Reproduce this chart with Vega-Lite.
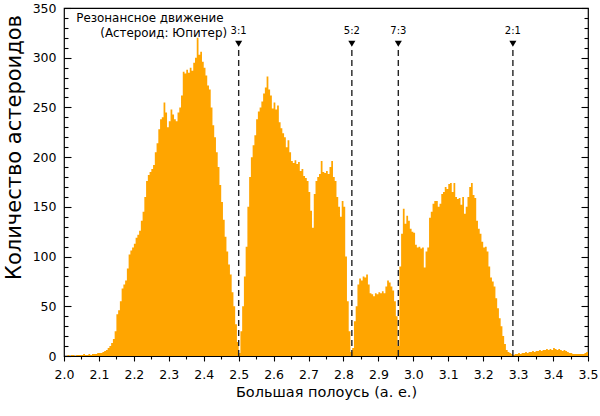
{
 "$schema": "https://vega.github.io/schema/vega-lite/v6.json",
 "width": 524,
 "height": 348,
 "padding": {"left": 64, "top": 8, "right": 12, "bottom": 60},
 "autosize": {"type": "none"},
 "background": "white",
 "config": {
  "view": {"stroke": "black", "strokeWidth": 1.2},
  "font": "DejaVu Sans",
  "axis": {"domain": false, "grid": false, "labelFont": "DejaVu Sans", "titleFont": "DejaVu Sans", "tickColor": "black", "labelColor": "black", "titleColor": "black", "titleFontWeight": "normal", "tickWidth": 1.1, "labelOverlap": false, "labelFlush": false, "labelBound": false}
 },
 "datasets": {
  "hist": [
   {"a":2.000,"n":0},{"a":2.005,"n":0},{"a":2.010,"n":1},{"a":2.015,"n":0},{"a":2.020,"n":1},{"a":2.025,"n":1},{"a":2.030,"n":0},{"a":2.035,"n":1},{"a":2.040,"n":1},{"a":2.045,"n":1},
   {"a":2.050,"n":1},{"a":2.055,"n":2},{"a":2.060,"n":1},{"a":2.065,"n":1},{"a":2.070,"n":2},{"a":2.075,"n":1},{"a":2.080,"n":2},{"a":2.085,"n":2},{"a":2.090,"n":2},{"a":2.095,"n":3},
   {"a":2.100,"n":3},{"a":2.105,"n":3},{"a":2.110,"n":4},{"a":2.115,"n":5},{"a":2.120,"n":6},{"a":2.125,"n":8},{"a":2.130,"n":10},{"a":2.135,"n":13},{"a":2.140,"n":17},{"a":2.145,"n":25},
   {"a":2.150,"n":42},{"a":2.155,"n":46},{"a":2.160,"n":55},{"a":2.165,"n":68},{"a":2.170,"n":72},{"a":2.175,"n":76},{"a":2.180,"n":88},{"a":2.185,"n":102},{"a":2.190,"n":106},{"a":2.195,"n":109},
   {"a":2.200,"n":113},{"a":2.205,"n":119},{"a":2.210,"n":122},{"a":2.215,"n":126},{"a":2.220,"n":136},{"a":2.225,"n":145},{"a":2.230,"n":160},{"a":2.235,"n":176},{"a":2.240,"n":182},{"a":2.245,"n":185},
   {"a":2.250,"n":188},{"a":2.255,"n":192},{"a":2.260,"n":205},{"a":2.265,"n":214},{"a":2.270,"n":228},{"a":2.275,"n":238},{"a":2.280,"n":240},{"a":2.285,"n":255},{"a":2.290,"n":245},{"a":2.295,"n":230},
   {"a":2.300,"n":236},{"a":2.305,"n":248},{"a":2.310,"n":243},{"a":2.315,"n":238},{"a":2.320,"n":236},{"a":2.325,"n":245},{"a":2.330,"n":250},{"a":2.335,"n":262},{"a":2.340,"n":286},{"a":2.345,"n":284},
   {"a":2.350,"n":288},{"a":2.355,"n":285},{"a":2.360,"n":290},{"a":2.365,"n":287},{"a":2.370,"n":295},{"a":2.375,"n":300},{"a":2.380,"n":320},{"a":2.385,"n":303},{"a":2.390,"n":306},{"a":2.395,"n":296},
   {"a":2.400,"n":290},{"a":2.405,"n":282},{"a":2.410,"n":272},{"a":2.415,"n":268},{"a":2.420,"n":250},{"a":2.425,"n":232},{"a":2.430,"n":220},{"a":2.435,"n":205},{"a":2.440,"n":190},{"a":2.445,"n":172},
   {"a":2.450,"n":155},{"a":2.455,"n":137},{"a":2.460,"n":120},{"a":2.465,"n":105},{"a":2.470,"n":92},{"a":2.475,"n":82},{"a":2.480,"n":64},{"a":2.485,"n":50},{"a":2.490,"n":32},{"a":2.495,"n":14},
   {"a":2.500,"n":3},{"a":2.505,"n":25},{"a":2.510,"n":50},{"a":2.515,"n":80},{"a":2.520,"n":110},{"a":2.525,"n":150},{"a":2.530,"n":180},{"a":2.535,"n":200},{"a":2.540,"n":212},{"a":2.545,"n":222},
   {"a":2.550,"n":238},{"a":2.555,"n":246},{"a":2.560,"n":250},{"a":2.565,"n":256},{"a":2.570,"n":264},{"a":2.575,"n":270},{"a":2.580,"n":281},{"a":2.585,"n":268},{"a":2.590,"n":262},{"a":2.595,"n":249},
   {"a":2.600,"n":255},{"a":2.605,"n":248},{"a":2.610,"n":252},{"a":2.615,"n":235},{"a":2.620,"n":229},{"a":2.625,"n":224},{"a":2.630,"n":220},{"a":2.635,"n":210},{"a":2.640,"n":217},{"a":2.645,"n":205},
   {"a":2.650,"n":196},{"a":2.655,"n":194},{"a":2.660,"n":197},{"a":2.665,"n":193},{"a":2.670,"n":195},{"a":2.675,"n":186},{"a":2.680,"n":188},{"a":2.685,"n":181},{"a":2.690,"n":179},{"a":2.695,"n":176},
   {"a":2.700,"n":165},{"a":2.705,"n":146},{"a":2.710,"n":129},{"a":2.715,"n":163},{"a":2.720,"n":176},{"a":2.725,"n":180},{"a":2.730,"n":183},{"a":2.735,"n":196},{"a":2.740,"n":185},{"a":2.745,"n":184},
   {"a":2.750,"n":186},{"a":2.755,"n":183},{"a":2.760,"n":190},{"a":2.765,"n":196},{"a":2.770,"n":180},{"a":2.775,"n":176},{"a":2.780,"n":160},{"a":2.785,"n":150},{"a":2.790,"n":140},{"a":2.795,"n":156},
   {"a":2.800,"n":150},{"a":2.805,"n":100},{"a":2.810,"n":55},{"a":2.815,"n":25},{"a":2.820,"n":4},{"a":2.825,"n":8},{"a":2.830,"n":35},{"a":2.835,"n":50},{"a":2.840,"n":72},{"a":2.845,"n":78},
   {"a":2.850,"n":76},{"a":2.855,"n":80},{"a":2.860,"n":79},{"a":2.865,"n":82},{"a":2.870,"n":72},{"a":2.875,"n":63},{"a":2.880,"n":62},{"a":2.885,"n":60},{"a":2.890,"n":63},{"a":2.895,"n":62},
   {"a":2.900,"n":64},{"a":2.905,"n":63},{"a":2.910,"n":65},{"a":2.915,"n":63},{"a":2.920,"n":70},{"a":2.925,"n":76},{"a":2.930,"n":74},{"a":2.935,"n":70},{"a":2.940,"n":66},{"a":2.945,"n":55},
   {"a":2.950,"n":40},{"a":2.955,"n":10},{"a":2.960,"n":90},{"a":2.965,"n":123},{"a":2.970,"n":148},{"a":2.975,"n":133},{"a":2.980,"n":141},{"a":2.985,"n":136},{"a":2.990,"n":128},{"a":2.995,"n":125},
   {"a":3.000,"n":124},{"a":3.005,"n":112},{"a":3.010,"n":109},{"a":3.015,"n":110},{"a":3.020,"n":108},{"a":3.025,"n":109},{"a":3.030,"n":89},{"a":3.035,"n":105},{"a":3.040,"n":109},{"a":3.045,"n":139},
   {"a":3.050,"n":145},{"a":3.055,"n":153},{"a":3.060,"n":156},{"a":3.065,"n":156},{"a":3.070,"n":150},{"a":3.075,"n":153},{"a":3.080,"n":163},{"a":3.085,"n":165},{"a":3.090,"n":170},{"a":3.095,"n":168},
   {"a":3.100,"n":173},{"a":3.105,"n":174},{"a":3.110,"n":165},{"a":3.115,"n":174},{"a":3.120,"n":160},{"a":3.125,"n":158},{"a":3.130,"n":159},{"a":3.135,"n":152},{"a":3.140,"n":160},{"a":3.145,"n":143},
   {"a":3.150,"n":150},{"a":3.155,"n":160},{"a":3.160,"n":170},{"a":3.165,"n":174},{"a":3.170,"n":162},{"a":3.175,"n":159},{"a":3.180,"n":136},{"a":3.185,"n":128},{"a":3.190,"n":123},{"a":3.195,"n":115},
   {"a":3.200,"n":109},{"a":3.205,"n":110},{"a":3.210,"n":105},{"a":3.215,"n":90},{"a":3.220,"n":79},{"a":3.225,"n":75},{"a":3.230,"n":70},{"a":3.235,"n":58},{"a":3.240,"n":48},{"a":3.245,"n":38},
   {"a":3.250,"n":30},{"a":3.255,"n":20},{"a":3.260,"n":12},{"a":3.265,"n":6},{"a":3.270,"n":4},{"a":3.275,"n":3},{"a":3.280,"n":2},{"a":3.285,"n":1},{"a":3.290,"n":2},{"a":3.295,"n":2},
   {"a":3.300,"n":3},{"a":3.305,"n":2},{"a":3.310,"n":3},{"a":3.315,"n":3},{"a":3.320,"n":4},{"a":3.325,"n":3},{"a":3.330,"n":4},{"a":3.335,"n":4},{"a":3.340,"n":5},{"a":3.345,"n":4},
   {"a":3.350,"n":5},{"a":3.355,"n":5},{"a":3.360,"n":6},{"a":3.365,"n":5},{"a":3.370,"n":6},{"a":3.375,"n":6},{"a":3.380,"n":7},{"a":3.385,"n":6},{"a":3.390,"n":7},{"a":3.395,"n":6},
   {"a":3.400,"n":8},{"a":3.405,"n":7},{"a":3.410,"n":6},{"a":3.415,"n":7},{"a":3.420,"n":6},{"a":3.425,"n":5},{"a":3.430,"n":6},{"a":3.435,"n":5},{"a":3.440,"n":4},{"a":3.445,"n":3},
   {"a":3.450,"n":3},{"a":3.455,"n":2},{"a":3.460,"n":2},{"a":3.465,"n":2},{"a":3.470,"n":2},{"a":3.475,"n":2},{"a":3.480,"n":2},{"a":3.485,"n":2},{"a":3.490,"n":3},{"a":3.495,"n":4},
   {"a":3.500,"n":4}
  ],
  "res": [
   {"a":2.500,"label":"3:1"},
   {"a":2.824,"label":"5:2"},
   {"a":2.957,"label":"7:3"},
   {"a":3.285,"label":"2:1"}
  ],
  "note": [
   {"a":2.457,"n":340,"label":"Резонансное движение"},
   {"a":2.467,"n":325,"label":"(Астероид: Юпитер)"}
  ]
 },
 "resolve": {"axis": {"x": "independent", "y": "independent"}},
 "layer": [
  {
   "data": {"name": "hist"},
   "mark": {"type": "area", "interpolate": "step-after", "color": "#FFA500"},
   "encoding": {
    "x": {"field": "a", "type": "quantitative", "scale": {"domain": [2.0, 3.5], "nice": false, "zero": false},
     "axis": {"orient": "bottom", "title": "Большая полоусь (а. е.)", "titleFontSize": 14.5, "titlePadding": 5, "labelFontSize": 12.5, "labelPadding": 7,
      "labelOverlap": false, "labelFlush": false, "labelBound": false,
      "values": [2.0,2.05,2.1,2.15,2.2,2.25,2.3,2.35,2.4,2.45,2.5,2.55,2.6,2.65,2.7,2.75,2.8,2.85,2.9,2.95,3.0,3.05,3.1,3.15,3.2,3.25,3.3,3.35,3.4,3.45,3.5],
      "labelExpr": "abs(datum.value*10 - round(datum.value*10)) < 0.001 ? format(datum.value, '.1f') : ''",
      "tickSize": {"condition": {"test": "abs(datum.value*10 - round(datum.value*10)) < 0.001", "value": 5}, "value": 3}}},
    "y": {"field": "n", "type": "quantitative", "scale": {"domain": [0, 350], "nice": false},
     "axis": {"orient": "left", "title": "Количество астероидов", "titleFontSize": 21, "titlePadding": 8, "titleY": 139, "labelFontSize": 12.5, "labelPadding": 15,
      "labelOverlap": false, "labelFlush": false, "labelBound": false,
      "values": [0,10,20,30,40,50,60,70,80,90,100,110,120,130,140,150,160,170,180,190,200,210,220,230,240,250,260,270,280,290,300,310,320,330,340,350],
      "labelExpr": "datum.value % 50 == 0 ? datum.label : ''",
      "tickSize": {"condition": {"test": "datum.value % 50 == 0", "value": -7}, "value": -4}}}
   }
  },
  {
   "data": {"name": "res"},
   "mark": {"type": "rule", "color": "#222222", "strokeWidth": 1.4, "strokeDash": [6, 4]},
   "encoding": {
    "x": {"field": "a", "type": "quantitative", "axis": null},
    "y": {"datum": 0, "type": "quantitative", "axis": null},
    "y2": {"datum": 310}
   }
  },
  {
   "data": {"name": "res"},
   "mark": {"type": "point", "shape": "triangle-down", "filled": true, "color": "black", "size": 50, "opacity": 1},
   "encoding": {
    "x": {"field": "a", "type": "quantitative", "axis": null},
    "y": {"datum": 314, "type": "quantitative",
     "axis": {"orient": "right", "title": null, "labels": false,
      "values": [0,10,20,30,40,50,60,70,80,90,100,110,120,130,140,150,160,170,180,190,200,210,220,230,240,250,260,270,280,290,300,310,320,330,340,350],
      "tickSize": {"condition": {"test": "datum.value % 50 == 0", "value": -7}, "value": -4}}}
   }
  },
  {
   "data": {"name": "res"},
   "mark": {"type": "text", "fontSize": 10, "color": "black", "baseline": "middle", "align": "center"},
   "encoding": {
    "x": {"field": "a", "type": "quantitative", "axis": null},
    "y": {"datum": 327, "type": "quantitative", "axis": null},
    "text": {"field": "label"}
   }
  },
  {
   "data": {"name": "note"},
   "mark": {"type": "text", "fontSize": 11.9, "color": "black", "baseline": "middle", "align": "right"},
   "encoding": {
    "x": {"field": "a", "type": "quantitative", "axis": null},
    "y": {"field": "n", "type": "quantitative", "axis": null},
    "text": {"field": "label"}
   }
  }
 ]
}
